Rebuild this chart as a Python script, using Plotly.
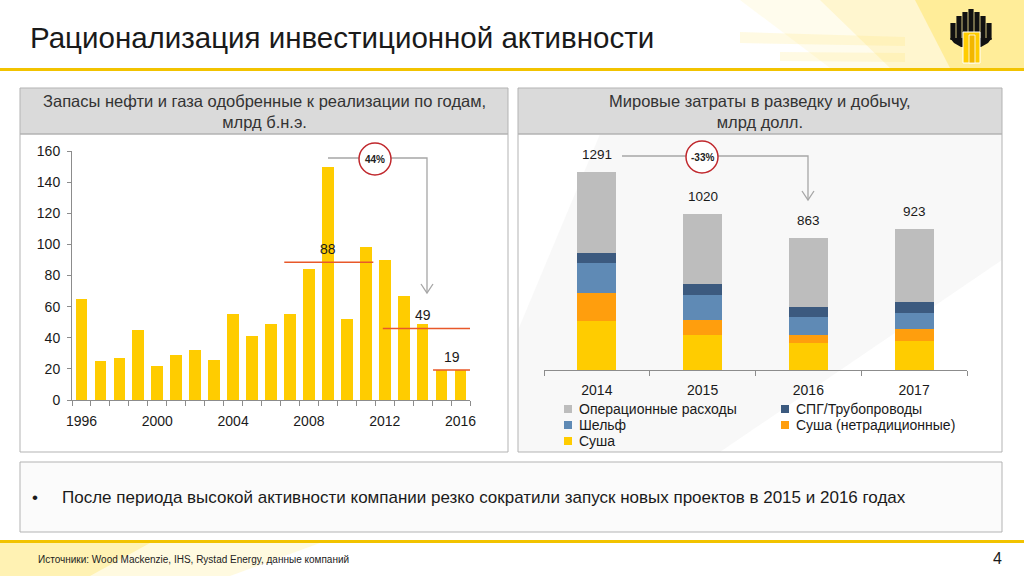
import plotly.graph_objects as go

# ---------------- data ----------------
years = list(range(1996, 2017))
reserves = [65, 25, 27, 45, 22, 29, 32, 26, 55, 41, 49, 55, 84, 150, 52, 98, 90, 67, 49, 19, 19]
avg_labels = ["88", "49", "19"]
avg_levels = [88.5, 46, 19.3]

spend_years = ["2014", "2015", "2016", "2017"]
spend_totals = [1291, 1020, 863, 923]
series_names = ["Суша", "Суша (нетрадиционные)", "Шельф", "СПГ/Трубопроводы", "Операционные расходы"]
onshore = [320, 229, 174, 189]
onshore_unconv = [185, 98, 54, 81]
offshore = [192, 166, 118, 102]
lng_pipe = [70, 68, 65, 70]
opex = [524, 459, 452, 481]
series_values = [onshore, onshore_unconv, offshore, lng_pipe, opex]
series_colors = ["#FFCC00", "#FF9E0D", "#5F8AB5", "#3C5A7F", "#BDBDBD"]

left_ticks = [1996, 2000, 2004, 2008, 2012, 2016]

# ---------------- helpers (pixel -> paper) ----------------
W, H = 1024, 576
FONT = "Liberation Sans, Arial, sans-serif"


def px(x):
    return x / W


def py(y):
    return 1 - y / H


def ppath(points):
    s = ""
    for i, (x, y) in enumerate(points):
        s += ("M " if i == 0 else " L ") + f"{px(x):.5f},{py(y):.5f}"
    return s + " Z"


fig = go.Figure()

fig.add_trace(go.Bar(
    x=years, y=reserves, width=0.62, marker=dict(color="#FFCC00", line=dict(width=0)),
    xaxis="x", yaxis="y", showlegend=False, hoverinfo="skip"))

spend_idx = list(range(len(spend_years)))
for name, vals, col in zip(series_names, series_values, series_colors):
    fig.add_trace(go.Bar(
        x=spend_idx, y=vals, name=name, width=0.37,
        marker=dict(color=col, line=dict(width=0)),
        xaxis="x2", yaxis="y2", hoverinfo="skip", showlegend=False))

shapes = []
annotations = []


def text(x, y, t, size, color="#1a1a1a", xanchor="center", yanchor="middle"):
    annotations.append(dict(x=px(x), y=py(y), xref="paper", yref="paper", text=t, showarrow=False,
                            xanchor=xanchor, yanchor=yanchor, font=dict(size=size, color=color)))


# ---- slide decorations ----
for pts, col in [
    ([(740, 0), (1024, 0), (1024, 68), (830, 68)], "rgba(255,228,80,0.10)"),
    ([(820, 0), (1024, 0), (1024, 68), (890, 68)], "rgba(255,220,50,0.16)"),
    ([(915, 0), (1024, 0), (1024, 68), (950, 68)], "rgba(255,212,0,0.26)"),
    ([(740, 32), (905, 37), (905, 46), (740, 43)], "rgba(255,230,100,0.18)"),
    ([(780, 52), (905, 53), (905, 62), (780, 61)], "rgba(255,225,80,0.16)"),
    ([(0, 543), (320, 543), (230, 576), (0, 576)], "rgba(255,222,60,0.16)"),
    ([(0, 543), (150, 543), (90, 576), (0, 576)], "rgba(255,212,20,0.22)"),
    ([(600, 134), (1002, 134), (1002, 260), (720, 452), (518, 452), (518, 330)], "rgba(225,225,225,0.22)"),
]:
    shapes.append(dict(type="path", xref="paper", yref="paper", path=ppath(pts),
                       line=dict(width=0), fillcolor=col, layer="below"))

# yellow rules
for yy in (69.5, 541.5):
    shapes.append(dict(type="line", xref="paper", yref="paper", x0=0, x1=1,
                       y0=py(yy), y1=py(yy), line=dict(color="#F2C300", width=3), layer="below"))

# panels
for x0, x1, y0, y1, fill in [
    (20, 508, 88, 134, "#DADADA"), (20, 508, 134, 452, "rgba(255,255,255,0)"),
    (518, 1002, 88, 134, "#DADADA"), (518, 1002, 134, 452, "rgba(255,255,255,0)"),
    (20, 1002, 462, 532, "rgba(248,248,248,0.6)"),
]:
    shapes.append(dict(type="rect", xref="paper", yref="paper",
                       x0=px(x0), x1=px(x1), y0=py(y1), y1=py(y0),
                       line=dict(color="#B3B3B3", width=1), fillcolor=fill, layer="below"))

# logo (simplified)
col_tops = [23, 16, 12, 9, 12, 16, 23]
for i, top in enumerate(col_tops):
    x0 = 950 + i * 6
    shapes.append(dict(type="rect", xref="paper", yref="paper",
                       x0=px(x0 + 0.4), x1=px(x0 + 5.6), y0=py(40), y1=py(top),
                       line=dict(width=0), fillcolor="#111111"))
shapes.append(dict(type="path", xref="paper", yref="paper",
                   path=ppath([(950, 38), (992, 38), (988, 43), (981, 47), (961, 47), (954, 43)]),
                   line=dict(width=0), fillcolor="#111111"))
shapes.append(dict(type="rect", xref="paper", yref="paper",
                   x0=px(963), x1=px(980), y0=py(63), y1=py(32),
                   line=dict(color="white", width=1), fillcolor="#FFCC00"))
shapes.append(dict(type="rect", xref="paper", yref="paper",
                   x0=px(969), x1=px(975), y0=py(63), y1=py(35),
                   line=dict(color="white", width=0.8), fillcolor="#F2B600"))

# ---- left chart annotations ----
spans = [(2006.7, 2011.4), (2011.9, 2016.5), (2014.55, 2016.6)]
label_x = [2009, 2014, 2015.55]
for (a, b), lvl, lab, lx in zip(spans, avg_levels, avg_labels, label_x):
    shapes.append(dict(type="line", xref="x", yref="y", x0=a, x1=b, y0=lvl, y1=lvl,
                       line=dict(color="#E8582A", width=1.5)))
    annotations.append(dict(x=lx, y=lvl, xref="x", yref="y", text=lab, showarrow=False,
                            xanchor="center", yanchor="bottom", yshift=3,
                            font=dict(size=14, color="#1a1a1a")))


# connectors with circles
def connector(xa, ya, xb, yb, cx, cy, txt):
    shapes.append(dict(type="path", xref="paper", yref="paper",
                       path=f"M {px(xa):.5f},{py(ya):.5f} L {px(xb):.5f},{py(ya):.5f} L {px(xb):.5f},{py(yb):.5f}",
                       line=dict(color="#A6A6A6", width=1.3)))
    shapes.append(dict(type="path", xref="paper", yref="paper",
                       path=f"M {px(xb-6):.5f},{py(yb-9):.5f} L {px(xb):.5f},{py(yb):.5f} L {px(xb+6):.5f},{py(yb-9):.5f}",
                       line=dict(color="#A6A6A6", width=1.3)))
    shapes.append(dict(type="circle", xref="paper", yref="paper",
                       x0=px(cx - 16), x1=px(cx + 16), y0=py(cy + 16), y1=py(cy - 16),
                       line=dict(color="#C0282D", width=1.5), fillcolor="white"))
    text(cx, cy, f"<b>{txt}</b>", 10, "#222222")


connector(328, 158, 427, 293, 375, 159, "44%")
connector(622, 156, 808, 200, 702, 157, "-33%")

# totals above stacked bars
for i, tot in zip(spend_idx, spend_totals):
    annotations.append(dict(x=i, y=tot, xref="x2", yref="y2", text=str(tot), showarrow=False,
                            xanchor="center", yanchor="bottom", yshift=8,
                            font=dict(size=13.5, color="#1a1a1a")))

# manual legend (two columns, reading order as in reference)
legend_order = [4, 3, 2, 1, 0]
col_x = [568, 785]
row_y = [409, 425, 441]
for k, si in enumerate(legend_order):
    cx = col_x[k % 2]
    cy = row_y[k // 2]
    shapes.append(dict(type="rect", xref="paper", yref="paper",
                       x0=px(cx - 4), x1=px(cx + 4), y0=py(cy + 4), y1=py(cy - 4),
                       line=dict(width=0), fillcolor=series_colors[si]))
    text(cx + 9, cy, series_names[si], 14, xanchor="left")

# texts
text(28, 37, "Рационализация инвестиционной активности", 29.5, xanchor="left")
text(264, 112, "Запасы нефти и газа одобренные к реализации по годам,<br>млрд б.н.э.", 16.5, "#333333")
text(760, 112, "Мировые затраты в разведку и добычу,<br>млрд долл.", 16.5, "#333333")
text(30, 497, "•", 17, xanchor="left")
text(60, 497, "После периода высокой активности компании резко сократили запуск новых проектов в 2015 и 2016 годах",
     17, xanchor="left")
text(36, 559, "Источники: Wood Mackenzie, IHS, Rystad Energy, данные компаний", 10, "#222222", xanchor="left")
text(1004, 558, "4", 16, xanchor="right")

fig.update_layout(
    width=W, height=H, margin=dict(l=0, r=0, t=0, b=0, autoexpand=False), autosize=False,
    paper_bgcolor="white", plot_bgcolor="rgba(0,0,0,0)",
    font=dict(family=FONT, color="#1a1a1a", size=13),
    barmode="stack", hovermode=False, showlegend=False,
    xaxis=dict(domain=[px(72), px(470)], range=[1995.5, 2016.5], tickvals=left_ticks,
               ticks="", showline=True, linecolor="#8C8C8C", linewidth=1, showgrid=False, zeroline=False,
               tickfont=dict(size=14), anchor="y", ticklabelstandoff=8,
               minor=dict(ticks="outside", tick0=1995.5, dtick=1, ticklen=5, tickcolor="#8C8C8C")),
    yaxis=dict(domain=[py(400), py(151)], range=[0, 160], tickvals=list(range(0, 161, 20)),
               ticks="outside", ticklen=4, tickcolor="#8C8C8C", showline=True, linecolor="#8C8C8C",
               showgrid=False, zeroline=False, tickfont=dict(size=14), anchor="x", ticklabelstandoff=4),
    xaxis2=dict(domain=[px(544), px(967)], range=[-0.5, 3.5], tickvals=spend_idx, ticktext=spend_years,
                ticks="", showline=True, linecolor="#8C8C8C", showgrid=False, zeroline=False,
                tickfont=dict(size=14), anchor="y2", ticklabelstandoff=7,
                minor=dict(ticks="outside", tick0=-0.5, dtick=1, ticklen=5, tickcolor="#8C8C8C")),
    yaxis2=dict(domain=[py(370), py(150)], range=[0, 1437], visible=False, anchor="x2"),
    shapes=shapes, annotations=annotations,
)

fig.write_html("out.html", config={"displayModeBar": False},
               post_script="document.body.style.margin='0';document.body.style.overflow='hidden';")
